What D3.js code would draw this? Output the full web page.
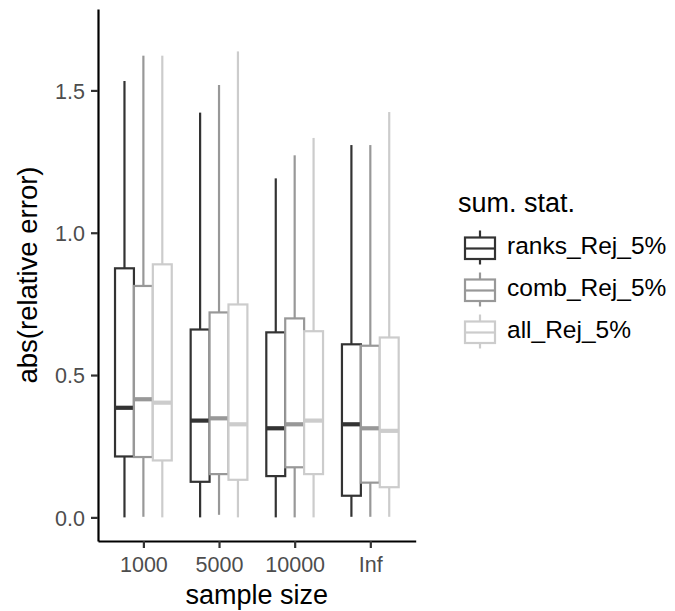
<!DOCTYPE html>
<html>
<head>
<meta charset="utf-8">
<script src="https://cdn.jsdelivr.net/npm/d3@7"></script>
<style>
  html, body { margin: 0; padding: 0; background: #fff; }
  svg { display: block; font-family: "Liberation Sans", Arial, Helvetica, sans-serif; }
</style>
</head>
<body>
<svg id="chart" width="675" height="611"></svg>
<script>
// ---- data ----
const categories = ["1000", "5000", "10000", "Inf"];
const seriesNames = ["ranks_Rej_5%", "comb_Rej_5%", "all_Rej_5%"];
const seriesColors = ["#333333", "#989898", "#cccccc"];
const yTicks = [0, 0.5, 1.0, 1.5];
// each row: [lower whisker, Q1, median, Q3, upper whisker] per sample size
const ranksStats = [
  [0.000, 0.214, 0.385, 0.875, 1.533],
  [0.000, 0.125, 0.340, 0.660, 1.422],
  [0.000, 0.145, 0.313, 0.650, 1.191],
  [0.002, 0.076, 0.327, 0.608, 1.308]
];
const combStats = [
  [0.002, 0.212, 0.415, 0.813, 1.622],
  [0.009, 0.152, 0.348, 0.720, 1.519],
  [0.000, 0.176, 0.327, 0.699, 1.272],
  [0.002, 0.122, 0.313, 0.603, 1.308]
];
const allStats = [
  [0.000, 0.200, 0.403, 0.889, 1.622],
  [0.000, 0.132, 0.327, 0.748, 1.637],
  [0.000, 0.152, 0.340, 0.654, 1.333],
  [0.002, 0.106, 0.304, 0.632, 1.424]
];
const allSeries = [ranksStats, combStats, allStats];

// ---- layout ----
const svg = d3.select("#chart");
const panel = { left: 98, right: 415.7, top: 9, bottom: 541 };

const x = d3.scaleLinear().domain([0.4, categories.length + 0.6]).range([panel.left, panel.right]);
const y = d3.scaleLinear().domain([-0.083, 1.786]).range([panel.bottom, panel.top]);
const dodge = 0.75;
const boxW = dodge / seriesNames.length;

const boxes = [];
allSeries.forEach((stats, s) => {
  stats.forEach((v, c) => {
    boxes.push({ s, c, low: v[0], q1: v[1], med: v[2], q3: v[3], high: v[4],
      center: (c + 1) - dodge / 2 + boxW * (s + 0.5) });
  });
});
boxes.sort((a, b) => a.c - b.c || a.s - b.s);

const g = svg.append("g");
boxes.forEach(b => {
  const col = seriesColors[b.s];
  const bg = g.append("g");
  bg.append("line").attr("x1", x(b.center)).attr("x2", x(b.center))
    .attr("y1", y(b.q3)).attr("y2", y(b.high)).attr("stroke", col).attr("stroke-width", 2.2);
  bg.append("line").attr("x1", x(b.center)).attr("x2", x(b.center))
    .attr("y1", y(b.q1)).attr("y2", y(b.low)).attr("stroke", col).attr("stroke-width", 2.2);
  bg.append("rect")
    .attr("x", x(b.center - boxW / 2)).attr("width", x(b.center + boxW / 2) - x(b.center - boxW / 2))
    .attr("y", y(b.q3)).attr("height", y(b.q1) - y(b.q3))
    .attr("fill", "#fff").attr("stroke", col).attr("stroke-width", 2.2);
  bg.append("line").attr("x1", x(b.center - boxW / 2)).attr("x2", x(b.center + boxW / 2))
    .attr("y1", y(b.med)).attr("y2", y(b.med)).attr("stroke", col).attr("stroke-width", 4.2);
});

// ---- axes ----
const yAxis = svg.append("g").attr("transform", `translate(${panel.left},0)`)
  .call(d3.axisLeft(y).tickValues(yTicks).tickFormat(d3.format(".1f")).tickSize(7).tickSizeOuter(0).tickPadding(6));
const xAxis = svg.append("g").attr("transform", `translate(0,${panel.bottom})`)
  .call(d3.axisBottom(x).tickValues(categories.map((d, i) => i + 1))
    .tickFormat((d, i) => categories[i]).tickSize(7).tickSizeOuter(0).tickPadding(5));

[yAxis, xAxis].forEach(ax => {
  ax.select(".domain").attr("stroke", "#000").attr("stroke-width", 2.2);
  ax.selectAll(".tick line").attr("stroke", "#333").attr("stroke-width", 2.2);
  ax.selectAll(".tick text").attr("fill", "#4d4d4d").style("font-size", "21.5px")
    .style("font-family", '"Liberation Sans", Arial, sans-serif');
});
yAxis.selectAll(".tick text").attr("dy", "0.36em");
xAxis.selectAll(".tick text").attr("dy", "0").attr("y", 31);

// axis titles
svg.append("text").attr("x", (panel.left + panel.right) / 2).attr("y", 604)
  .attr("text-anchor", "middle").attr("fill", "#000").style("font-size", "27px")
  .text("sample size");
svg.append("text").attr("transform", `translate(37,${(panel.top + panel.bottom) / 2}) rotate(-90)`)
  .attr("text-anchor", "middle").attr("fill", "#000").style("font-size", "27.5px")
  .text("abs(relative error)");

// ---- legend ----
const legend = svg.append("g");
legend.append("text").attr("x", 458).attr("y", 211.5).attr("fill", "#000")
  .style("font-size", "27px").text("sum. stat.");
const keyY = d3.scalePoint().domain(seriesNames).range([248.5, 332.5]);
seriesNames.forEach((name, i) => {
  const cy = keyY(name);
  const col = seriesColors[i];
  const kg = legend.append("g");
  kg.append("line").attr("x1", 480).attr("x2", 480).attr("y1", cy - 18).attr("y2", cy + 16)
    .attr("stroke", col).attr("stroke-width", 2.2);
  kg.append("rect").attr("x", 465).attr("y", cy - 11).attr("width", 30).attr("height", 21.5)
    .attr("fill", "#fff").attr("stroke", col).attr("stroke-width", 2.2);
  kg.append("line").attr("x1", 465).attr("x2", 495).attr("y1", cy).attr("y2", cy)
    .attr("stroke", col).attr("stroke-width", 2.2);
  legend.append("text").attr("x", 507).attr("y", cy + 5.5).attr("fill", "#000")
    .style("font-size", "24.5px").text(name);
});
</script>
</body>
</html>
